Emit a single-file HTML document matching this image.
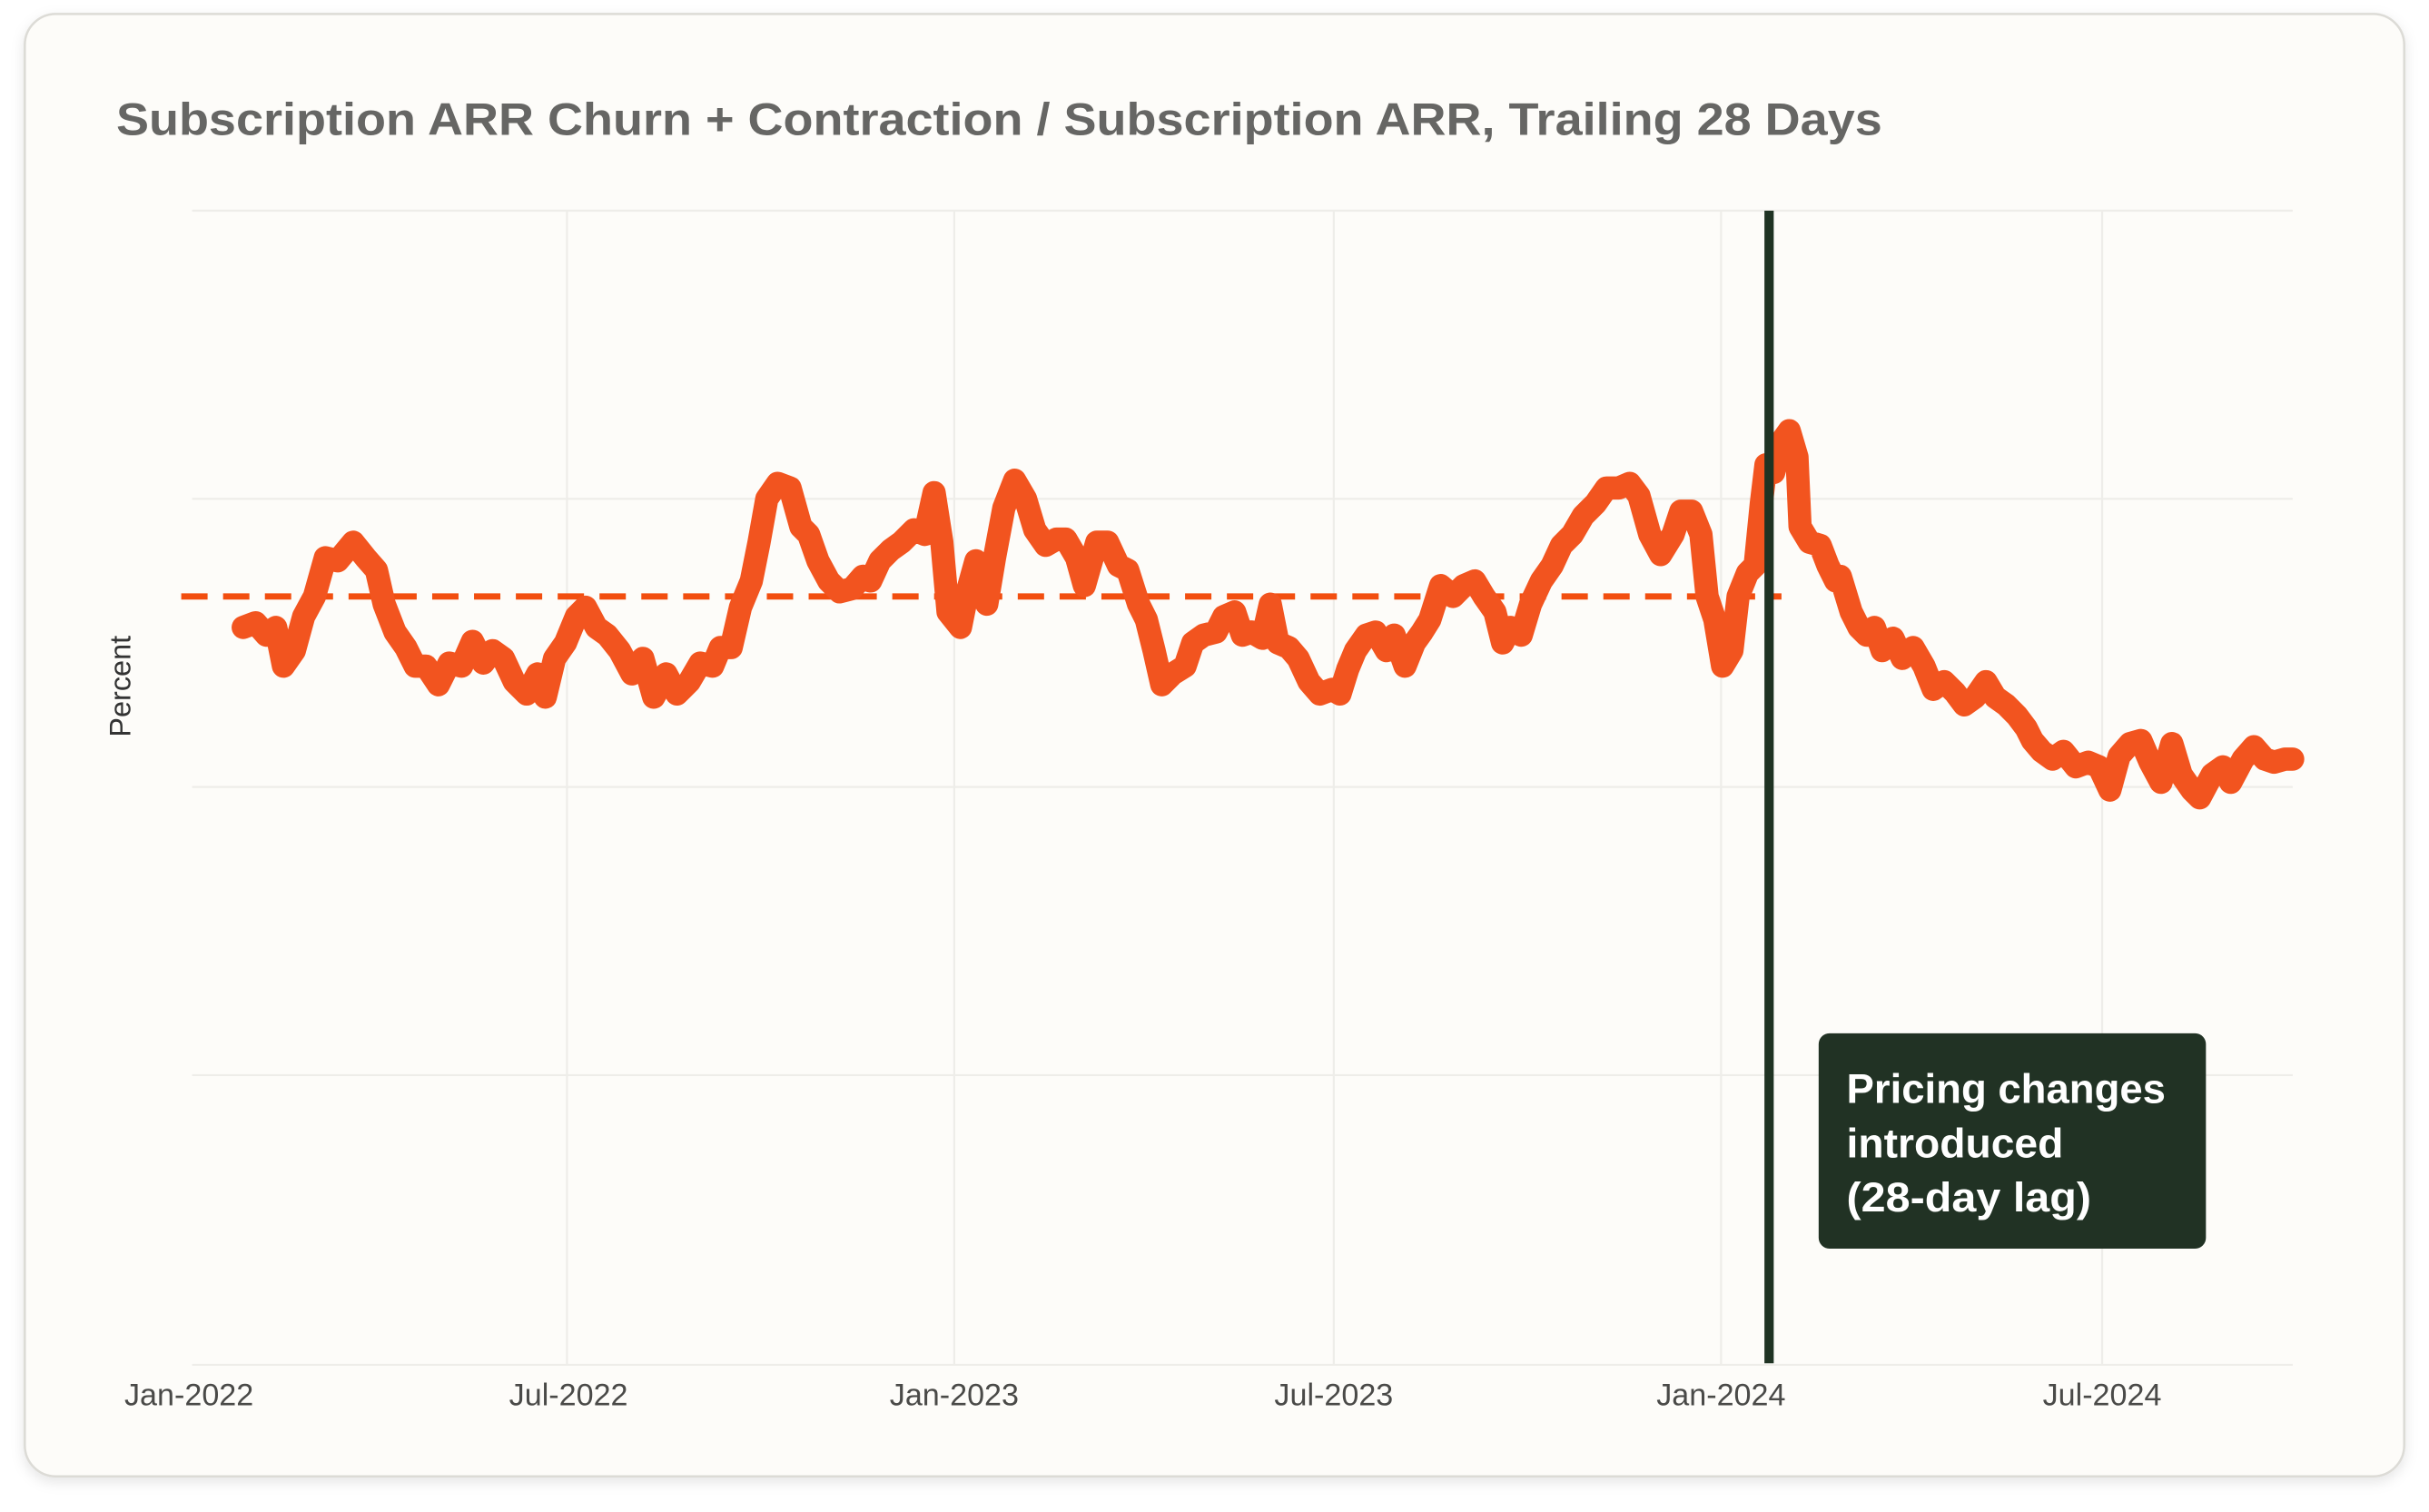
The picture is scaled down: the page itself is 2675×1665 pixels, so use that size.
<!DOCTYPE html>
<html><head><meta charset="utf-8"><style>
html,body{margin:0;padding:0;background:#fff;}
svg{display:block;}
</style></head><body>
<svg width="2675" height="1665" viewBox="0 0 1568 976" preserveAspectRatio="none" xmlns="http://www.w3.org/2000/svg">
<defs><filter id="sh" x="-5%" y="-5%" width="110%" height="110%"><feDropShadow dx="0" dy="3" stdDeviation="4" flood-color="#000" flood-opacity="0.10"/></filter></defs>
<rect x="0" y="0" width="1568" height="976" fill="#ffffff"/>
<rect x="16" y="9" width="1536" height="944" rx="20" fill="#fdfcf9" stroke="#dcdbd6" stroke-width="1.5" filter="url(#sh)"/>
<text x="75" y="87" font-family="Liberation Sans, sans-serif" font-weight="bold" font-size="29.5" fill="#666664" textLength="1140" lengthAdjust="spacingAndGlyphs">Subscription ARR Churn + Contraction / Subscription ARR, Trailing 28 Days</text>
<g stroke="#eeede9" stroke-width="1.3">
<line x1="124" y1="136" x2="1480" y2="136"/><line x1="124" y1="322" x2="1480" y2="322"/><line x1="124" y1="508" x2="1480" y2="508"/><line x1="124" y1="694" x2="1480" y2="694"/><line x1="124" y1="881" x2="1480" y2="881"/>
<line x1="366" y1="136" x2="366" y2="881"/><line x1="616" y1="136" x2="616" y2="881"/><line x1="861" y1="136" x2="861" y2="881"/><line x1="1111" y1="136" x2="1111" y2="881"/><line x1="1357" y1="136" x2="1357" y2="881"/>
</g>
<g font-family="Liberation Sans, sans-serif" font-size="20" fill="#4a4a48" text-anchor="middle">
<text x="122" y="907">Jan-2022</text><text x="367" y="907">Jul-2022</text><text x="616" y="907">Jan-2023</text><text x="861" y="907">Jul-2023</text><text x="1111" y="907">Jan-2024</text><text x="1357" y="907">Jul-2024</text>
</g>
<text transform="translate(84,443) rotate(-90)" font-family="Liberation Sans, sans-serif" font-size="19" fill="#333" text-anchor="middle">Percent</text>
<line x1="117" y1="385" x2="1150" y2="385" stroke="#f24e0f" stroke-width="4" stroke-dasharray="17,10"/>
<polyline fill="none" stroke="#f2541f" stroke-width="15" stroke-linejoin="round" stroke-linecap="round" points="157,405 165,402 172,410 178,405 183,430 190,420 196,398 203,385 210,360 218,362 228,350 236,360 243,368 248,390 255,408 262,418 268,430 275,430 283,442 290,428 298,430 305,414 312,428 318,420 325,425 332,440 340,448 347,435 352,450 358,425 365,415 372,398 378,392 385,405 392,410 400,420 408,435 415,425 422,450 430,435 437,448 445,440 452,428 460,430 465,418 472,418 478,392 485,375 490,350 495,322 502,312 510,315 517,340 522,345 528,362 535,375 542,382 550,380 557,372 562,375 568,362 575,355 582,350 590,342 597,345 603,318 608,350 612,395 620,405 625,380 630,362 637,390 642,360 648,328 655,310 662,322 668,342 675,352 682,348 688,348 695,360 700,378 708,350 715,350 722,365 728,368 735,390 740,400 745,420 750,442 757,435 765,430 770,415 777,410 785,408 790,398 797,395 802,410 808,408 815,412 820,390 825,415 832,418 838,425 845,440 852,448 860,445 865,448 870,432 875,420 882,410 888,408 895,420 900,410 907,430 913,415 918,408 923,400 930,378 938,385 945,378 952,375 958,385 965,395 970,415 975,405 982,410 988,390 995,375 1002,365 1008,352 1015,345 1022,333 1030,325 1037,315 1045,315 1052,312 1058,320 1065,345 1072,358 1080,345 1085,330 1092,330 1098,345 1102,385 1107,400 1112,430 1118,420 1122,385 1128,370 1133,365 1137,325 1140,300 1145,305 1150,285 1155,278 1160,295 1162,340 1168,350 1175,352 1180,365 1185,375 1188,372 1195,395 1200,405 1205,410 1210,405 1215,420 1222,412 1228,425 1235,418 1242,430 1248,445 1255,440 1262,447 1268,455 1275,450 1282,440 1288,450 1295,455 1302,462 1308,470 1312,478 1318,485 1325,490 1332,485 1340,495 1348,492 1355,495 1362,510 1368,488 1375,480 1382,478 1388,492 1395,505 1402,480 1408,500 1415,510 1420,515 1428,500 1435,495 1440,505 1448,490 1455,482 1462,490 1468,492 1475,490 1480,490"/>
<line x1="1142" y1="136" x2="1142" y2="880" stroke="#1f3323" stroke-width="6"/>
<rect x="1174" y="667" width="250" height="139" rx="7" fill="#213224"/>
<g font-family="Liberation Sans, sans-serif" font-weight="bold" font-size="26.5" fill="#ffffff">
<text x="1192" y="712" textLength="206" lengthAdjust="spacingAndGlyphs">Pricing changes</text><text x="1192" y="747" textLength="140" lengthAdjust="spacingAndGlyphs">introduced</text><text x="1192" y="782" textLength="158" lengthAdjust="spacingAndGlyphs">(28-day lag)</text>
</g>
</svg>
</body></html>
